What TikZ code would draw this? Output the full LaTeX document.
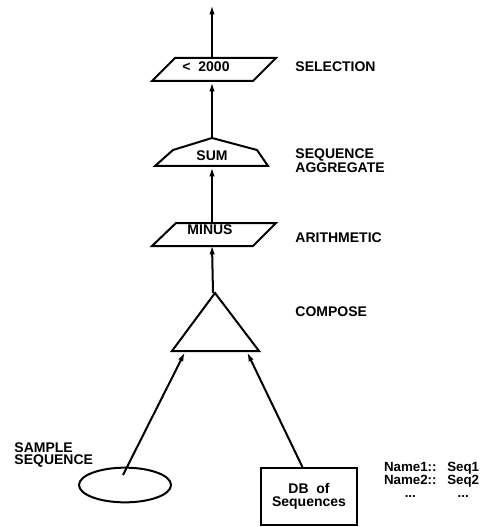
\documentclass[tikz,border=0pt]{standalone}
\usepackage{fontspec}
\setmainfont{Liberation Sans}
\usetikzlibrary{arrows.meta,shapes.geometric}

\tikzset{
  lbl/.style={anchor=west, align=left, font=\fontsize{10.5}{9}\selectfont\bfseries},
  optxt/.style={font=\fontsize{10.5}{9}\selectfont\bfseries, inner sep=0pt},
}

\begin{document}
\begin{tikzpicture}[>={Latex[length=7pt,width=4pt]}, x=0.75pt, y=-0.75pt, line width=1.5pt]
\useasboundingbox (0,0) rectangle (482,527);

%% Draw the operators
\draw (175,58) -- (276,58) -- (253,81) -- (152,81) -- cycle;
\node[optxt] (sel) at (206,67) {<\ \ 2000};
\coordinate (seltop) at (212,58);
\coordinate (selbot) at (212,82);
\coordinate (out) at (212,5);

\draw (212,138) -- (257,150) -- (268,166) -- (155,166) -- (173,150) -- cycle;
\node[optxt] (sum) at (212,156) {SUM};
\coordinate (sumtop) at (212,138);
\coordinate (sumbot) at (212,167);

\draw (176,223) -- (276,223) -- (253,246) -- (152,246) -- cycle;
\node[optxt] (minus) at (210,230) {MINUS};
\coordinate (mintop) at (212,223);
\coordinate (minbot) at (212,245);

\draw (215,293) -- (259,351) -- (172,351) -- cycle;
\coordinate (comptop) at (213,293);
\coordinate (compl) at (185,352);
\coordinate (compr) at (247,352);

%% Draw the inputs
\node[draw, ellipse, minimum width=69pt, minimum height=26pt, inner sep=0pt] (sample) at (125,485) {};
\coordinate (samplein) at (123,475);
\node[draw, minimum width=72pt, minimum height=43pt, align=center,
  font=\fontsize{10.5}{9.5}\selectfont\bfseries] (db) at (309,496.5) {DB\ \ of\\Sequences};

%% Add the flow
\draw[->] (samplein) -- (compl);
\draw[->] ([xshift=-5pt]db.north) -- (compr);
\draw[->] (comptop) -- (minbot);
\draw[->] (mintop) -- (sumbot);
\draw[->] (sumtop) -- (selbot);
\draw[->] (seltop) -- (out);

%% Add the labels
\node[lbl] (selection) at (290,67) {SELECTION};
\node[lbl] (aggregate) at (290,161) {SEQUENCE\\AGGREGATE};
\node[lbl] (arith) at (290,238) {ARITHMETIC};
\node[lbl] (compose) at (290,312) {COMPOSE};
\node[lbl] (samplelbl) at (9,455) {SAMPLE\\SEQUENCE};
\node[anchor=west, inner sep=0pt, font=\fontsize{10}{9.75}\selectfont\bfseries] (names) at (383,482)
  {\begin{tabular}{@{}c@{\hspace{8pt}}c@{}}Name1:: & Seq1\\ Name2:: & Seq2\\ ... & ...\end{tabular}};

\end{tikzpicture}
\end{document}
